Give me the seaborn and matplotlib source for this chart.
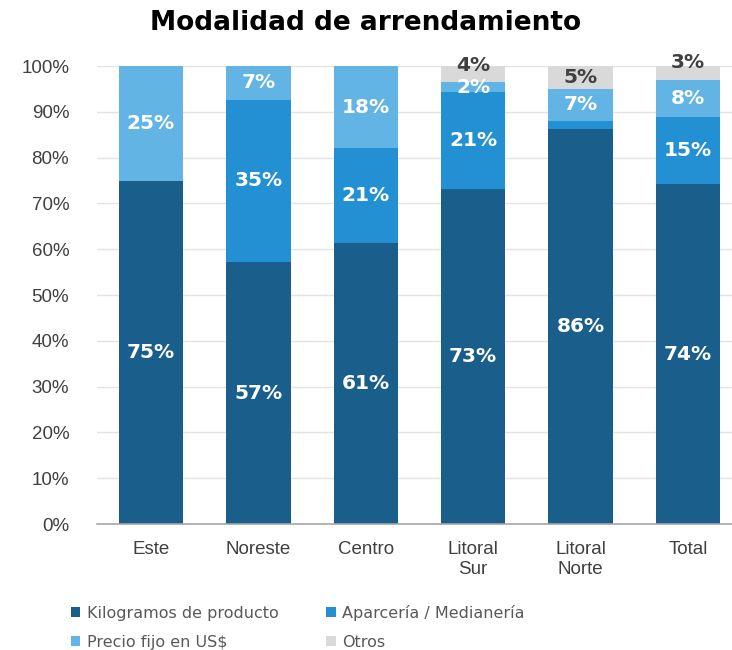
import numpy as np
import pandas as pd
import matplotlib
matplotlib.use("Agg")
import matplotlib.pyplot as plt
import seaborn as sns

regiones = ["Este", "Noreste", "Centro", "Litoral\nSur", "Litoral\nNorte", "Total"]
series = ["Kilogramos de producto", "Aparcería / Medianería", "Precio fijo en US$", "Otros"]
kilogramos = [75.0, 57.2, 61.4, 73.1, 86.2, 74.2]
aparceria = [0.0, 35.4, 20.6, 21.2, 1.8, 14.7]
precio_fijo = [25.0, 7.4, 18.0, 2.2, 7.0, 8.0]
otros = [0.0, 0.0, 0.0, 3.6, 5.0, 3.1]

colores = ["#1A5F8C", "#2390D3", "#62B4E5", "#D9D9D9"]
color_texto = ["white", "white", "white", "#404040"]

sns.set_style("white")
plt.rcParams["font.family"] = ["DejaVu Sans"]

fig = plt.figure(figsize=(7.32, 6.5), dpi=100)
ax = fig.add_axes([0.1325, 0.1938, 0.8675, 0.7046])

valores = [kilogramos, aparceria, precio_fijo, otros]
base = np.zeros(len(regiones))
for i, (nombre, vals) in enumerate(zip(series, valores)):
    df = pd.DataFrame({"region": regiones, "valor": vals})
    sns.barplot(data=df, x="region", y="valor", ax=ax, color=colores[i],
                width=0.6, bottom=base.copy(), label=nombre, zorder=3,
                linewidth=0, saturation=1)
    for j, v in enumerate(vals):
        if v >= 2:
            y = base[j] + v / 2
            # small top segments: excel pushes the label up over the bar top
            if i == 3 and v < 4.5:
                y = base[j] + v + 0.3 - (v - 3) * 1.5 + 0.6
            ax.text(j, y, f"{round(v)}%", ha="center", va="center",
                    color=color_texto[i], fontsize=14.5, fontweight="bold",
                    zorder=5)
    base += np.array(vals)

handles, labels = ax.get_legend_handles_labels()
ax.get_legend().remove()

ax.set_ylim(0, 100)
ax.set_xlim(-0.502, 5.41)
ax.set_yticks(range(0, 101, 10))
ax.set_yticklabels([f"{t}%" for t in range(0, 101, 10)], family="Liberation Sans",
                   fontsize=13.5, color="#404040")
ax.set_xticks(range(len(regiones)))
ax.set_xticklabels(regiones, family="Liberation Sans", fontsize=13.5,
                   color="#404040", linespacing=1.25)
ax.tick_params(axis="y", length=0, pad=20)
ax.tick_params(axis="x", length=0, pad=12)
ax.set_xlabel("")
ax.set_ylabel("")
ax.grid(axis="y", color="#E3E3E3", linewidth=1, zorder=0)
ax.set_axisbelow(True)
for s in ["top", "right", "left"]:
    ax.spines[s].set_visible(False)
ax.spines["bottom"].set_color("#A6A6A6")
ax.spines["bottom"].set_linewidth(1.2)
ax.spines["bottom"].set_zorder(4)

fig.suptitle("Modalidad de arrendamiento", x=0.5, y=0.985, fontsize=19,
             fontweight="bold", color="black")

# reorder so the legend fills row by row like the original
orden = [0, 2, 1, 3]
fig.legend([handles[k] for k in orden], [labels[k] for k in orden], ncol=2,
           loc="lower left", bbox_to_anchor=(0.077, -0.022),
           frameon=False, fontsize=11.5, labelcolor="#595959",
           handlelength=0.6, handleheight=0.6, handletextpad=0.4,
           columnspacing=3.0, labelspacing=0.9)

fig.savefig("out.png", dpi=100)
